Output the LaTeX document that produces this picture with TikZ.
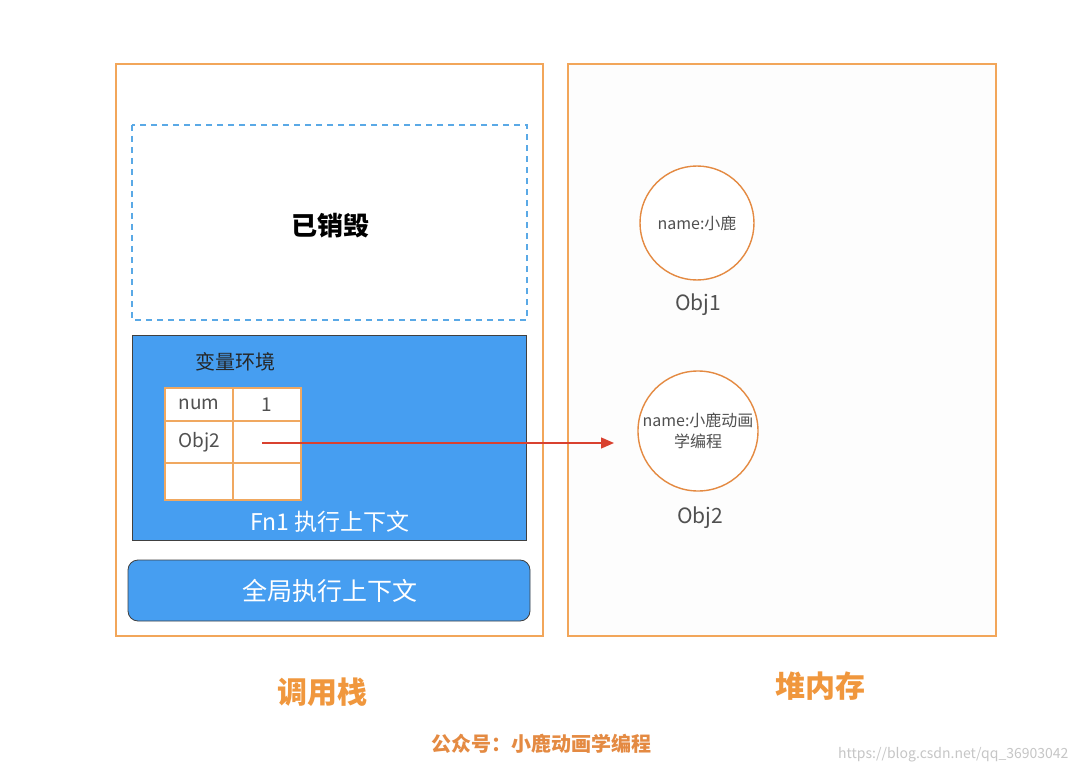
\documentclass[tikz,border=0pt]{standalone}
\usepackage{fontspec}
\setmainfont{Noto Sans CJK SC}
\newfontfamily\cjk{Noto Sans CJK SC}
\usetikzlibrary{arrows.meta}
\definecolor{boxorange}{HTML}{F2A65A}
\definecolor{circorange}{HTML}{E48A42}
\definecolor{labelorange}{HTML}{F0973D}
\definecolor{stackblue}{HTML}{469EF1}
\definecolor{dashblue}{HTML}{5AA9E6}
\definecolor{txtgray}{HTML}{505050}
\definecolor{arrred}{HTML}{D9412F}
\definecolor{cellorange}{HTML}{F0A860}
\tikzset{
  panel/.style={draw=boxorange, line width=1.4pt},
  framebox/.style={fill=stackblue, draw=black!75, line width=0.8pt},
  cell/.style={draw=cellorange, fill=white, line width=1.4pt, minimum width=68pt, inner sep=0pt, font=\fontsize{19}{22}\selectfont, text=txtgray},
  heapobj/.style={circle, draw=circorange, line width=1.4pt, fill=white, align=center, font=\fontsize{16}{21}\selectfont, text=txtgray, inner sep=0pt},
  objlabel/.style={font=\fontsize{21}{24}\selectfont, text=txtgray},
  biglabel/.style={font=\fontsize{30}{34}\selectfont\bfseries, text=labelorange},
}
\begin{document}
\begin{tikzpicture}[x=1pt,y=-1pt]
\useasboundingbox[fill=white] (0,0) rectangle (1080,773);
% panels
\draw[panel] (116,64) rectangle (543,636);
\draw[panel, fill=gray!1.5] (568,64) rectangle (996,636);
% destroyed box
\draw[draw=dashblue, line width=2.4pt, dash pattern=on 6pt off 5pt] (132,125) rectangle (527,320);
\node[font=\fontsize{26}{28}\selectfont\bfseries] (destroyed) at (330,226) {已销毁};
% Fn1 context
\draw[framebox] (132,335) rectangle (526,540);
\node[font=\fontsize{20}{22}\selectfont, text=black!85] (varenv) at (235,362) {变量环境};
% table
\node[cell, minimum height=33pt] (c11) at (199,404.5) {num};
\node[cell, minimum height=33pt] (c12) at (267,404.5) {1};
\node[cell, minimum height=42pt] (c21) at (199,442) {Obj2};
\node[cell, minimum height=42pt] (c22) at (267,442) {};
\node[cell, minimum height=37pt] (c31) at (199,481.5) {};
\node[cell, minimum height=37pt] (c32) at (267,481.5) {};
\node[font=\fontsize{23}{26}\selectfont, text=white] (fn1) at (330,522) {Fn1 执行上下文};
% global context
\draw[framebox, rounded corners=10pt] (128,560) rectangle (530,621);
\node[font=\fontsize{25}{28}\selectfont, text=white] (global) at (330,591) {全局执行上下文};
% heap objects
\node[heapobj, minimum size=114pt] (obj1) at (697,223) {name:小鹿};
\node[objlabel] (obj1lbl) at (698,305) {Obj1};
\node[heapobj, minimum size=120pt] (obj2) at (698,431) {name:小鹿动画\\学编程};
\node[objlabel] (obj2lbl) at (700,518) {Obj2};
% pointer
\coordinate (ptr) at (262,443);
\coordinate (tip) at (614,443);
\draw[arrred, line width=1.3pt, -{Triangle[length=13pt,width=11pt]}] (ptr) -- (tip);
% labels
\node[biglabel] (stacklbl) at (322,692) {调用栈};
\node[biglabel] (heaplbl) at (820,686) {堆内存};
\node[font=\fontsize{20}{24}\selectfont\bfseries, text=circorange] (brand) at (541,744) {公众号：小鹿动画学编程};
\node[font=\fontsize{14}{16}\selectfont, text=gray!45, anchor=east] (wm) at (1072,755) {https://blog.csdn.net/qq\_36903042};
\end{tikzpicture}
\end{document}
